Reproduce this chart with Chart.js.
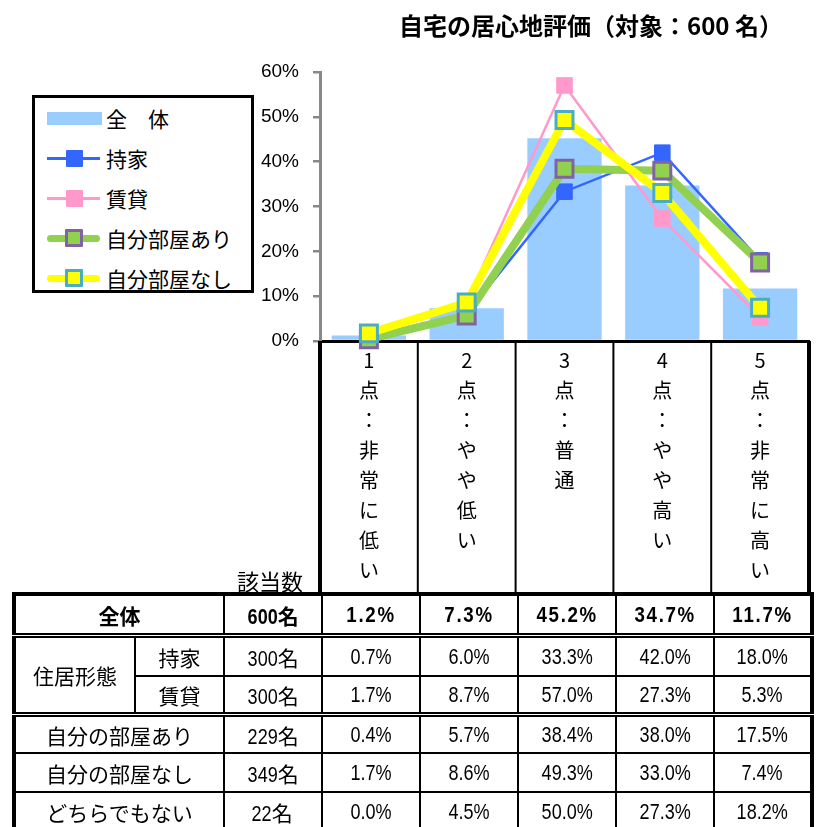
<!DOCTYPE html>
<html>
<head>
<meta charset="utf-8">
<script src="https://cdn.jsdelivr.net/npm/chart.js@4.4.0/dist/chart.umd.min.js"></script>
<style>
  body { margin: 0; background: #fff; width: 823px; height: 827px; overflow: hidden; position: relative;
         font-family: "Noto Sans CJK JP", sans-serif; color: #000; }
  #chartBox { position: absolute; left: 0; top: 0; width: 823px; height: 593px; }
  #title { position: absolute; left: 391px; top: 8px; width: 400px; text-align: center;
           font-weight: bold; font-size: 24px; line-height: 34px; }
  #legend { position: absolute; left: 32px; top: 95px; width: 216px; height: 192px; border: 3px solid #000; background: #fff; }
  .lg { position: absolute; }
  .lgText { position: absolute; left: 106px; font-size: 21px; line-height: 30px; white-space: nowrap; }
  #countHead { position: absolute; left: 237px; top: 565px; font-size: 22px; line-height: 30px; }
  #tbl { position: absolute; left: 12px; top: 592px; border-collapse: collapse; table-layout: fixed; width: 799px;
         border: 4px solid #000; }
  #tbl td { border: 2px solid #000; text-align: center; padding: 0; font-size: 21px;
            font-family: "Liberation Sans", "Noto Sans CJK JP", sans-serif; white-space: nowrap; }
  #tbl td span.n { display: inline-block; transform: scaleX(0.82); font-size: 22px; }
  #tbl td span.c { display: inline-block; transform: scaleX(0.82); transform-origin: right center; font-size: 22px; margin-left: -6px; }
  #tbl tr.r0 td { font-weight: bold; border-bottom: 5px double #000; height: 37px; }
  #tbl tr.r0 td span.n { letter-spacing: 2px; transform: scaleX(0.85); }
  #tbl tr.r1 td { height: 37px; }
  #tbl tr.r2 td { height: 35px; border-bottom: 5px double #000; }
  #tbl td.dbl { border-bottom: 5px double #000; }
  #tbl tr.r3 td { height: 35px; }
  #tbl tr.r4 td { height: 37px; }
  #tbl tr.r5 td { height: 38px; }
</style>
</head>
<body>
<div id="chartBox"><canvas id="evalChart" width="823" height="593"></canvas></div>
<div id="title">自宅の居心地評価（対象：600 名）</div>
<div id="legend"></div>
<div id="countHead">該当数</div>
<table id="tbl"></table>
<script>
// categories (vertical labels, one character per line)
const categories = [
  ['1', '点', '：', '非', '常', 'に', '低', 'い'],
  ['2', '点', '：', 'や', 'や', '低', 'い'],
  ['3', '点', '：', '普', '通'],
  ['4', '点', '：', 'や', 'や', '高', 'い'],
  ['5', '点', '：', '非', '常', 'に', '高', 'い']
];
const yTicks = [0, 10, 20, 30, 40, 50, 60];

// percentages per score
const totalPct   = [1.2, 7.3, 45.2, 34.7, 11.7];
const ownedPct   = [0.7, 6.0, 33.3, 42.0, 18.0];
const rentedPct  = [1.7, 8.7, 57.0, 27.3, 5.3];
const roomPct    = [0.4, 5.7, 38.4, 38.0, 17.5];
const noRoomPct  = [1.7, 8.6, 49.3, 33.0, 7.4];
const neitherPct = [0.0, 4.5, 50.0, 27.3, 18.2];

// table rows
const rowLabels = ['全体', '持家', '賃貸', '自分の部屋あり', '自分の部屋なし', 'どちらでもない'];
const rowCounts = [600, 300, 300, 229, 349, 22];

// chart series
const seriesNames = ['全　体', '持家', '賃貸', '自分部屋あり', '自分部屋なし'];

// column borders under the axis, through the label area
const columnLines = {
  id: 'columnLines',
  afterDraw(chart) {
    const { ctx, chartArea, scales: { x } } = chart;
    const n = categories.length;
    const w = (x.right - x.left) / n;
    ctx.save();
    ctx.strokeStyle = '#000';
    for (let i = 0; i <= n; i++) {
      const px = x.getPixelForTick(0) - w / 2 + i * w;
      ctx.lineWidth = (i === 0 || i === n) ? 4 : 2;
      ctx.beginPath();
      ctx.moveTo(px, chartArea.bottom);
      ctx.lineTo(px, chart.height);
      ctx.stroke();
    }
    ctx.restore();
  }
};

const ctx = document.getElementById('evalChart').getContext('2d');
new Chart(ctx, {
  plugins: [columnLines],
  data: {
    labels: categories,
    datasets: [
      { type: 'bar', label: seriesNames[0], data: totalPct, backgroundColor: '#99CCFF',
        barPercentage: 0.76, categoryPercentage: 1, order: 5 },
      { type: 'line', label: seriesNames[1], data: ownedPct, borderColor: '#3366FF', borderWidth: 2.5,
        pointStyle: 'rect', pointRadius: 11, pointBackgroundColor: '#3366FF', pointBorderColor: '#3366FF',
        pointBorderWidth: 1, tension: 0, clip: false, order: 4 },
      { type: 'line', label: seriesNames[2], data: rentedPct, borderColor: '#FF99CC', borderWidth: 2.5,
        pointStyle: 'rect', pointRadius: 11, pointBackgroundColor: '#FF99CC', pointBorderColor: '#FF99CC',
        pointBorderWidth: 1, tension: 0, clip: false, order: 3 },
      { type: 'line', label: seriesNames[3], data: roomPct, borderColor: '#92D050', borderWidth: 8,
        pointStyle: 'rect', pointRadius: 12, pointBackgroundColor: '#92D050', pointBorderColor: '#8064A2',
        pointBorderWidth: 3, tension: 0, clip: false, order: 2 },
      { type: 'line', label: seriesNames[4], data: noRoomPct, borderColor: '#FFFF00', borderWidth: 8,
        pointStyle: 'rect', pointRadius: 12, pointBackgroundColor: '#FFFF00', pointBorderColor: '#4BACC6',
        pointBorderWidth: 3, tension: 0, clip: false, order: 1 }
    ]
  },
  options: {
    responsive: false,
    animation: false,
    events: [],
    layout: { autoPadding: false, padding: { top: 72, right: 14, left: 0, bottom: 0 } },
    plugins: { legend: { display: false }, title: { display: false }, tooltip: { enabled: false } },
    scales: {
      x: {
        offset: true,
        grid: { display: false },
        border: { display: true, color: '#000', width: 3 },
        ticks: {
          autoSkip: false, maxRotation: 0, padding: -4, color: '#000',
          font: { family: '"Noto Sans CJK JP", sans-serif', size: 20, lineHeight: 1.5 }
        },
        afterFit: (scale) => { scale.height = 252; }
      },
      y: {
        min: yTicks[0], max: yTicks[yTicks.length - 1],
        grid: { drawOnChartArea: false, drawTicks: true, tickLength: 7, color: '#888', lineWidth: 2.5 },
        border: { display: true, color: '#888', width: 3 },
        ticks: {
          stepSize: 10, padding: 14, color: '#000',
          font: { family: '"Liberation Sans", sans-serif', size: 19 },
          callback: (v) => v + '%'
        },
        afterFit: (scale) => { scale.width = 320; }
      }
    }
  }
});

// legend
const legendItems = [
  { line: '#99CCFF', lw: 13, fill: null },
  { line: '#3366FF', lw: 3, fill: '#3366FF', border: '#3366FF', size: 17, bw: 0 },
  { line: '#FF99CC', lw: 3, fill: '#FF99CC', border: '#FF99CC', size: 17, bw: 0 },
  { line: '#92D050', lw: 7, fill: '#92D050', border: '#8064A2', size: 18, bw: 3 },
  { line: '#FFFF00', lw: 7, fill: '#FFFF00', border: '#4BACC6', size: 18, bw: 3 }
];
const legend = document.getElementById('legend');
legendItems.forEach((it, i) => {
  const cy = 118 + 40 * i - 98; // relative to legend content box
  const line = document.createElement('div');
  line.className = 'lg';
  const x0 = 47 - 35, x1 = (i === 0 ? 102 : 100) - 35;
  Object.assign(line.style, { left: x0 + 'px', width: (x1 - x0) + 'px', top: (cy - it.lw / 2) + 'px',
    height: it.lw + 'px', background: it.line, borderRadius: (i >= 3 ? it.lw / 2 : 0) + 'px' });
  legend.appendChild(line);
  if (it.fill) {
    const m = document.createElement('div');
    m.className = 'lg';
    Object.assign(m.style, { left: (74 - 35 - it.size / 2) + 'px', top: (cy - it.size / 2) + 'px',
      width: (it.size - 2 * it.bw) + 'px', height: (it.size - 2 * it.bw) + 'px', background: it.fill,
      border: it.bw + 'px solid ' + it.border, borderRadius: '1px' });
    legend.appendChild(m);
  }
  const t = document.createElement('div');
  t.className = 'lgText';
  t.style.left = (106 - 35) + 'px';
  t.style.top = (cy - 15) + 'px';
  t.textContent = seriesNames[i];
  legend.appendChild(t);
});

// table
const rows = [totalPct, ownedPct, rentedPct, roomPct, noRoomPct, neitherPct];
let html = '<colgroup><col style="width:121px"><col style="width:89px"><col style="width:98px">';
for (let i = 0; i < categories.length; i++) html += '<col style="width:98px">';
html += '</colgroup>';
rows.forEach((vals, r) => {
  let tr = '<tr class="r' + r + '">';
  if (r === 0) tr += '<td colspan="2">' + rowLabels[0] + '</td>';
  else if (r === 1) tr += '<td rowspan="2" class="dbl">住居形態</td><td>' + rowLabels[1] + '</td>';
  else if (r === 2) tr += '<td>' + rowLabels[2] + '</td>';
  else tr += '<td colspan="2">' + rowLabels[r] + '</td>';
  tr += '<td><span class="c">' + rowCounts[r] + '</span>名</td>';
  vals.forEach(v => { tr += '<td><span class="n">' + v.toFixed(1) + '%</span></td>'; });
  html += tr + '</tr>';
});
document.getElementById('tbl').innerHTML = html;
</script>
</body>
</html>
